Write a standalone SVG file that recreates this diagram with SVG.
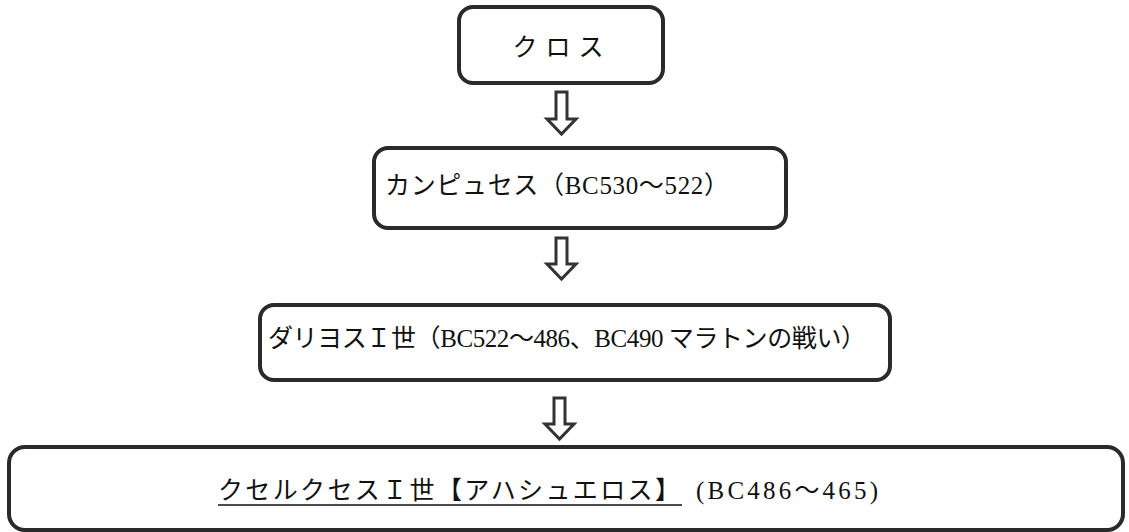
<svg xmlns="http://www.w3.org/2000/svg" width="1129" height="532" viewBox="0 0 1129 532">
<style>
.box{fill:#fff;stroke:#2a2a2a;stroke-width:4}
.arr{fill:#fff;stroke:#333;stroke-width:3;stroke-linejoin:miter}
.t{font-family:"Liberation Serif","Noto Sans CJK JP",serif;font-size:25px;fill:#111}
</style>
<rect width="1129" height="532" fill="#fff"/>
<g id="connectors">
<path class="arr" d="M556,92 H567 V119 H576 L561.5,134 L547,119 H556 Z"/>
<path class="arr" d="M556,238 H567 V264 H576 L561.5,279 L547,264 H556 Z"/>
<path class="arr" d="M554,398 H565 V424 H574 L559.5,439 L545,424 H554 Z"/>
</g>
<g id="n1">
<rect class="box" x="459" y="7" width="204" height="76" rx="14"/>
<text class="t" x="562" y="56" text-anchor="middle" letter-spacing="8" font-size="24">クロス</text>
</g>
<g id="n2">
<rect class="box" x="374" y="148" width="412" height="80" rx="14"/>
<text class="t" x="385" y="194" textLength="344" lengthAdjust="spacing">カンピュセス（BC530〜522）</text>
</g>
<g id="n3">
<rect class="box" x="260" y="305" width="630" height="75" rx="14"/>
<text class="t" x="268" y="347" textLength="598" lengthAdjust="spacing">ダリヨスＩ世（BC522〜486、BC490 マラトンの戦い）</text>
</g>
<g id="n4">
<rect class="box" x="9" y="447" width="1114" height="83" rx="16"/>
<text class="t" x="218" y="499" textLength="462" lengthAdjust="spacing">クセルクセスＩ世【アハシュエロス】</text>
<line x1="218" y1="505" x2="682" y2="505" stroke="#111" stroke-width="1.5"/>
<text class="t" x="696" y="499" textLength="182" lengthAdjust="spacing">(BC486〜465)</text>
</g>
</svg>
